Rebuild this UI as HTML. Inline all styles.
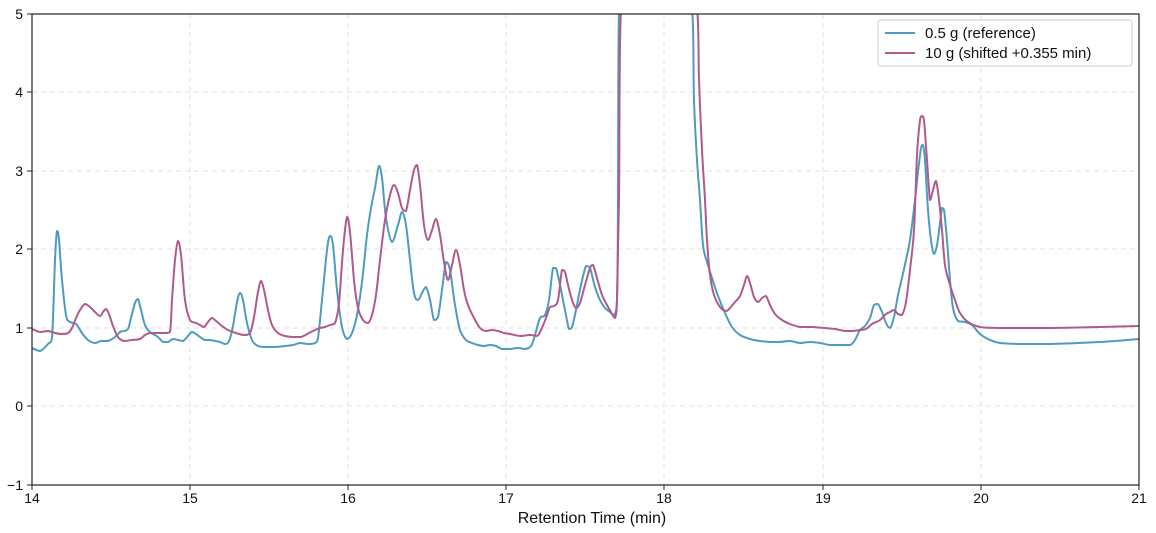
<!DOCTYPE html>
<html><head><style>html,body{margin:0;padding:0;background:#fff}svg{display:block}text{font-family:"Liberation Sans",sans-serif;fill:#111}</style></head>
<body>
<svg id="s" width="1156" height="533" viewBox="0 0 1156 533" xmlns="http://www.w3.org/2000/svg">
<defs><clipPath id="c"><rect x="32" y="14" width="1107" height="471"/></clipPath></defs>
<g stroke="#e2e2e2" stroke-dasharray="5,4" stroke-width="1">
<line x1="190" y1="14" x2="190" y2="485"/><line x1="348" y1="14" x2="348" y2="485"/><line x1="506" y1="14" x2="506" y2="485"/><line x1="664" y1="14" x2="664" y2="485"/><line x1="823" y1="14" x2="823" y2="485"/><line x1="981" y1="14" x2="981" y2="485"/>
<line x1="32" y1="92" x2="1139" y2="92"/><line x1="32" y1="171" x2="1139" y2="171"/><line x1="32" y1="249" x2="1139" y2="249"/><line x1="32" y1="328" x2="1139" y2="328"/><line x1="32" y1="406" x2="1139" y2="406"/>
</g>
<g clip-path="url(#c)" fill="none" stroke-width="2" stroke-linejoin="round" stroke-linecap="round">
<polyline class="sm" stroke="#4e9bbf" points="32,348 40,351 48,344 52,338 55,260 57,231 59,240 62,280 66,315 70,322 76,324 82,333 88,340 95,343 101,341 108,341 115,337 120,332 124,331 128,329 131,318 135,303 138,299 141,310 145,325 150,332 158,337 163,342 168,342 173,339 178,340 183,341 188,336 192,332 196,334 200,337 205,340 210,340 215,341 220,342 225,344 229,341 233,326 237,302 240,293 243,300 247,323 252,340 258,346 265,347 275,347 285,346 293,345 300,343 308,344 315,343 318,338 322,300 327,250 330,236 333,245 337,290 342,327 347,339 352,333 357,315 362,282 367,235 371,208 375,188 379,166 382,178 386,218 392,242 398,225 402,212 406,225 410,260 414,293 418,300 422,293 426,287 430,300 434,320 438,317 442,290 446,262 450,270 455,305 460,330 466,340 472,343 478,345 484,346 490,345 496,346 502,349 510,349 518,348 525,349 531,346 535,335 540,318 545,315 549,300 553,268 556,268 560,285 565,310 569,329 572,327 576,310 581,285 586,266 590,268 595,287 600,300 605,308 610,312 614,315 617,300 618,200 619,10 692,10 694,100 697,160 700,200 703,245 707,262 712,278 718,296 725,313 732,327 740,335 750,339 760,341 770,342 780,342 790,341 800,343 810,342 820,343 830,345 840,345 850,345 855,340 860,330 865,326 870,318 874,305 878,304 882,312 886,323 890,328 894,317 898,295 902,278 906,260 910,240 915,200 918,172 921,148 923,145 925,160 928,210 931,240 934,254 937,245 940,223 942,208 944,210 947,240 950,280 953,308 958,321 965,322 972,325 980,334 990,340 1000,343 1020,344 1050,344 1100,342 1139,339"/>
<polyline class="sm" stroke="#b05a8c" points="32,329 40,332 48,331 55,333 62,334 68,333 72,328 76,318 80,310 85,304 90,307 95,312 100,316 103,312 106,309 109,314 113,326 118,337 124,341 132,340 140,339 145,335 150,333 155,333 160,333 165,333 170,332 172,300 175,260 178,241 181,255 185,300 190,320 196,323 200,325 204,327 208,322 212,318 216,321 222,326 228,330 236,333 244,335 250,333 254,317 258,292 261,281 264,290 268,310 272,325 278,333 285,336 293,337 301,337 309,333 315,330 320,328 325,327 330,325 335,323 339,303 343,250 347,217 350,232 354,280 358,308 363,320 368,323 372,315 376,295 380,260 385,220 390,195 394,185 398,193 402,208 406,211 410,190 414,170 417,165 420,185 424,225 428,240 432,230 436,219 440,235 444,262 448,280 452,265 456,250 460,265 464,290 468,305 474,318 480,328 486,331 492,330 498,331 504,333 510,334 520,336 530,335 537,336 541,330 546,318 550,307 554,306 558,300 562,270 565,272 568,285 572,300 576,308 580,303 585,285 590,268 593,265 597,278 602,295 607,305 612,314 615,318 617,300 619,200 621,10 697,10 699,80 702,150 705,200 707,240 710,275 714,295 720,307 726,311 730,308 735,302 740,296 744,285 747,276 750,283 754,297 758,302 762,298 766,296 770,305 775,314 782,320 790,324 800,327 812,327 825,328 835,329 845,331 853,331 860,330 866,329 872,324 880,320 886,314 890,312 894,310 898,314 902,315 906,302 910,270 914,230 917,155 920,120 922,116 924,120 927,160 930,200 933,190 936,181 939,200 942,230 945,265 950,285 955,300 960,313 968,322 980,327 1000,328 1050,328 1100,327 1139,326"/>
</g>
<rect x="32" y="14" width="1107" height="471" fill="none" stroke="#222" stroke-width="1.2"/>
<g stroke="#222" stroke-width="1">
<line x1="32" y1="485" x2="32" y2="490"/><line x1="190" y1="485" x2="190" y2="490"/><line x1="348" y1="485" x2="348" y2="490"/><line x1="506" y1="485" x2="506" y2="490"/><line x1="664" y1="485" x2="664" y2="490"/><line x1="823" y1="485" x2="823" y2="490"/><line x1="981" y1="485" x2="981" y2="490"/><line x1="1139" y1="485" x2="1139" y2="490"/>
<line x1="27" y1="14" x2="32" y2="14"/><line x1="27" y1="92" x2="32" y2="92"/><line x1="27" y1="171" x2="32" y2="171"/><line x1="27" y1="249" x2="32" y2="249"/><line x1="27" y1="328" x2="32" y2="328"/><line x1="27" y1="406" x2="32" y2="406"/><line x1="27" y1="485" x2="32" y2="485"/>
</g>
<g font-size="14" text-anchor="middle">
<text x="32" y="503">14</text><text x="190" y="503">15</text><text x="348" y="503">16</text><text x="506" y="503">17</text><text x="664" y="503">18</text><text x="823" y="503">19</text><text x="981" y="503">20</text><text x="1139" y="503">21</text>
</g>
<g font-size="14" text-anchor="end">
<text x="23" y="19">5</text><text x="23" y="97">4</text><text x="23" y="176">3</text><text x="23" y="254">2</text><text x="23" y="333">1</text><text x="23" y="411">0</text><text x="23" y="490">−1</text>
</g>
<text x="592" y="523" font-size="16" text-anchor="middle">Retention Time (min)</text>
<rect x="878" y="20" width="254" height="46" rx="3" fill="#fff" fill-opacity="0.9" stroke="#ccc"/>
<line x1="885" y1="33" x2="915" y2="33" stroke="#4e9bbf" stroke-width="2"/>
<line x1="885" y1="53" x2="915" y2="53" stroke="#b05a8c" stroke-width="2"/>
<text x="925" y="38" font-size="15">0.5 g (reference)</text>
<text x="925" y="58" font-size="15">10 g (shifted +0.355 min)</text>
</svg>
<script>
function cl(v,a,b){var lo=Math.min(a,b),hi=Math.max(a,b);return Math.max(lo,Math.min(hi,v));}
document.querySelectorAll('polyline.sm').forEach(function(pl){
  var p=pl.getAttribute('points').trim().split(/\s+/).map(function(s){return s.split(',').map(Number);});
  var d='M'+p[0][0]+','+p[0][1];
  for(var i=0;i<p.length-1;i++){
    var p0=p[i-1]||p[i],p1=p[i],p2=p[i+1],p3=p[i+2]||p2,t=6;
    var c1x=cl(p1[0]+(p2[0]-p0[0])/t,p1[0],p2[0]),c1y=cl(p1[1]+(p2[1]-p0[1])/t,p1[1],p2[1]);
    var c2x=cl(p2[0]-(p3[0]-p1[0])/t,p1[0],p2[0]),c2y=cl(p2[1]-(p3[1]-p1[1])/t,p1[1],p2[1]);
    d+=' C'+c1x.toFixed(1)+','+c1y.toFixed(1)+' '+c2x.toFixed(1)+','+c2y.toFixed(1)+' '+p2[0]+','+p2[1];
  }
  var path=document.createElementNS('http://www.w3.org/2000/svg','path');
  path.setAttribute('d',d);path.setAttribute('stroke',pl.getAttribute('stroke'));
  pl.parentNode.replaceChild(path,pl);
});
</script>
</body></html>
